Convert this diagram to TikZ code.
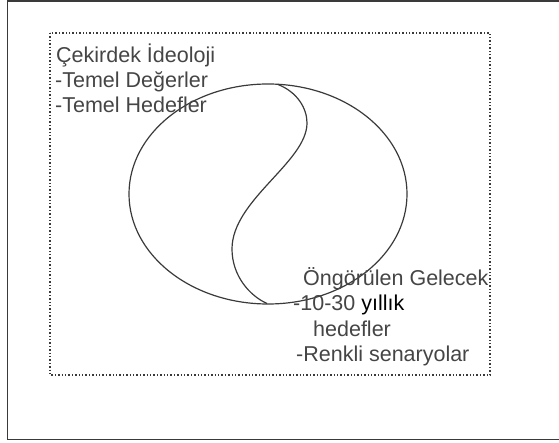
\documentclass[tikz,border=0pt]{standalone}
\usepackage{fontspec}
\setmainfont{Liberation Sans}
\usetikzlibrary{shapes.geometric}
\definecolor{ink}{HTML}{3A3A3A}
\definecolor{txt}{HTML}{454545}
\tikzset{
  lbl/.style={anchor=base west, inner sep=0pt, text=txt, font=\fontsize{21.5}{25}\selectfont},
  frame/.style={draw=ink, line width=1.8pt},
  dotbox/.style={draw=ink, line width=1.4pt, dotted},
  curve/.style={draw=ink, line width=1.2pt}
}
\begin{document}
\begin{tikzpicture}[x=1pt, y=-1pt]
\useasboundingbox (0,0) rectangle (559,443);
% outer frame (right side outside the picture)
\draw[frame] (562,1) -- (7.5,1) -- (7.5,439.5) -- (562,439.5);
% dotted box
\draw[dotbox] (50,33) rectangle (490,375);
% ellipse
\node[curve, ellipse, minimum width=278pt, minimum height=220pt, inner sep=0pt] (ell) at (268,194) {};
\coordinate (top) at (278,84.5);
\coordinate (rb) at (307,123);
\coordinate (lb) at (232,249);
\coordinate (bot) at (267,303.5);
\draw[curve] (top) .. controls (297,92) and (307,108) .. (rb)
  .. controls (307,162) and (232,200) .. (lb)
  .. controls (232,276) and (250,296) .. (bot);
% texts
\node[lbl] (t1) at (56,63) {Çekirdek İdeoloji};
\node[lbl] (t2) at (55,88) {-Temel Değerler};
\node[lbl] (t3) at (55,113) {-Temel Hedefler};
\node[lbl] (b1) at (303,286) {Öngörülen Gelecek};
\node[lbl] (b2) at (293,311) {-10-30 \textcolor{black}{yıllık}};
\node[lbl] (b3) at (313,336) {hedefler};
\node[lbl] (b4) at (296,361) {-Renkli senaryolar};
\end{tikzpicture}
\end{document}
